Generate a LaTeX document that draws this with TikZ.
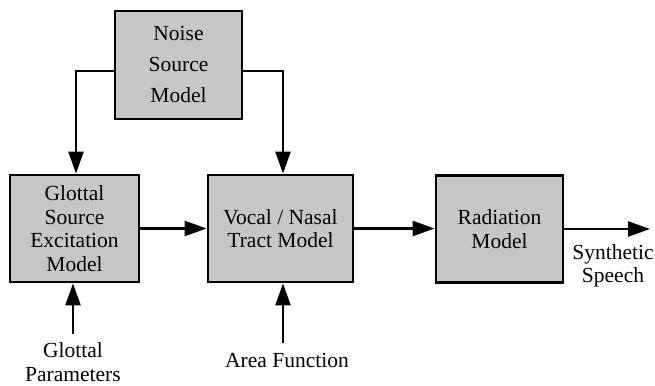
\documentclass[tikz,border=0pt]{standalone}
\usepackage{fontspec}
\setmainfont{Liberation Serif}
\usetikzlibrary{arrows.meta}

\tikzset{
  blockbox/.style={draw=black, line width=2.8pt, fill=black!22, align=center,
    inner sep=0pt, font=\fontsize{21.5}{23.5}\selectfont},
  lbl/.style={align=center, inner sep=0pt, font=\fontsize{21.5}{23.5}\selectfont},
  arr/.style={line width=2.5pt, -{Triangle[length=22pt,width=15pt]}},
}

\begin{document}
\begin{tikzpicture}[x=1pt, y=-1pt]
  \useasboundingbox (0,0) rectangle (655,385);

  % model blocks
  \node[blockbox, minimum width=127pt, minimum height=108pt,
        font=\fontsize{21.5}{31}\selectfont] (noise) at (178.5,65)
        {\raisebox{-3pt}{\begin{tabular}{@{}c@{}}Noise\\Source\\Model\end{tabular}}};
  \node[blockbox, minimum width=129pt, minimum height=107pt] (glottal) at (74.5,228.5)
        {Glottal\\Source\\Excitation\\Model};
  \node[blockbox, minimum width=145pt, minimum height=107pt] (vocal) at (280.5,228.5)
        {Vocal / Nasal\\Tract Model};
  \node[blockbox, minimum width=127pt, minimum height=107pt] (rad) at (499.5,229)
        {Radiation\\Model};

  % external inputs and output
  \node[lbl] (gp) at (73,362) {Glottal\\Parameters};
  \node[lbl] (af) at (287,360) {Area Function};
  \node[lbl] (ss) at (613,266) {Synthetic\\Speech};
  \coordinate (out) at (650,229);

  % noise source feeds both the glottal source and the tract
  \draw[arr] ([yshift=-6pt]noise.west) -| ([xshift=1.5pt]glottal.north);
  \draw[arr] ([yshift=-6pt]noise.east) -| ([xshift=2.5pt]vocal.north);

  % main signal path
  \draw[arr] (glottal.east) -- (glottal.east -| vocal.west);
  \draw[arr] (vocal.east) -- (vocal.east -| rad.west);
  \draw[arr] (rad.east) -- (rad.east -| out);

  % control inputs
  \draw[arr] ([yshift=8pt]gp.north) -- (gp.north |- glottal.south);
  \draw[arr] ([yshift=10pt]af.north -| 283,0) -- (283,0 |- vocal.south);
\end{tikzpicture}
\end{document}
